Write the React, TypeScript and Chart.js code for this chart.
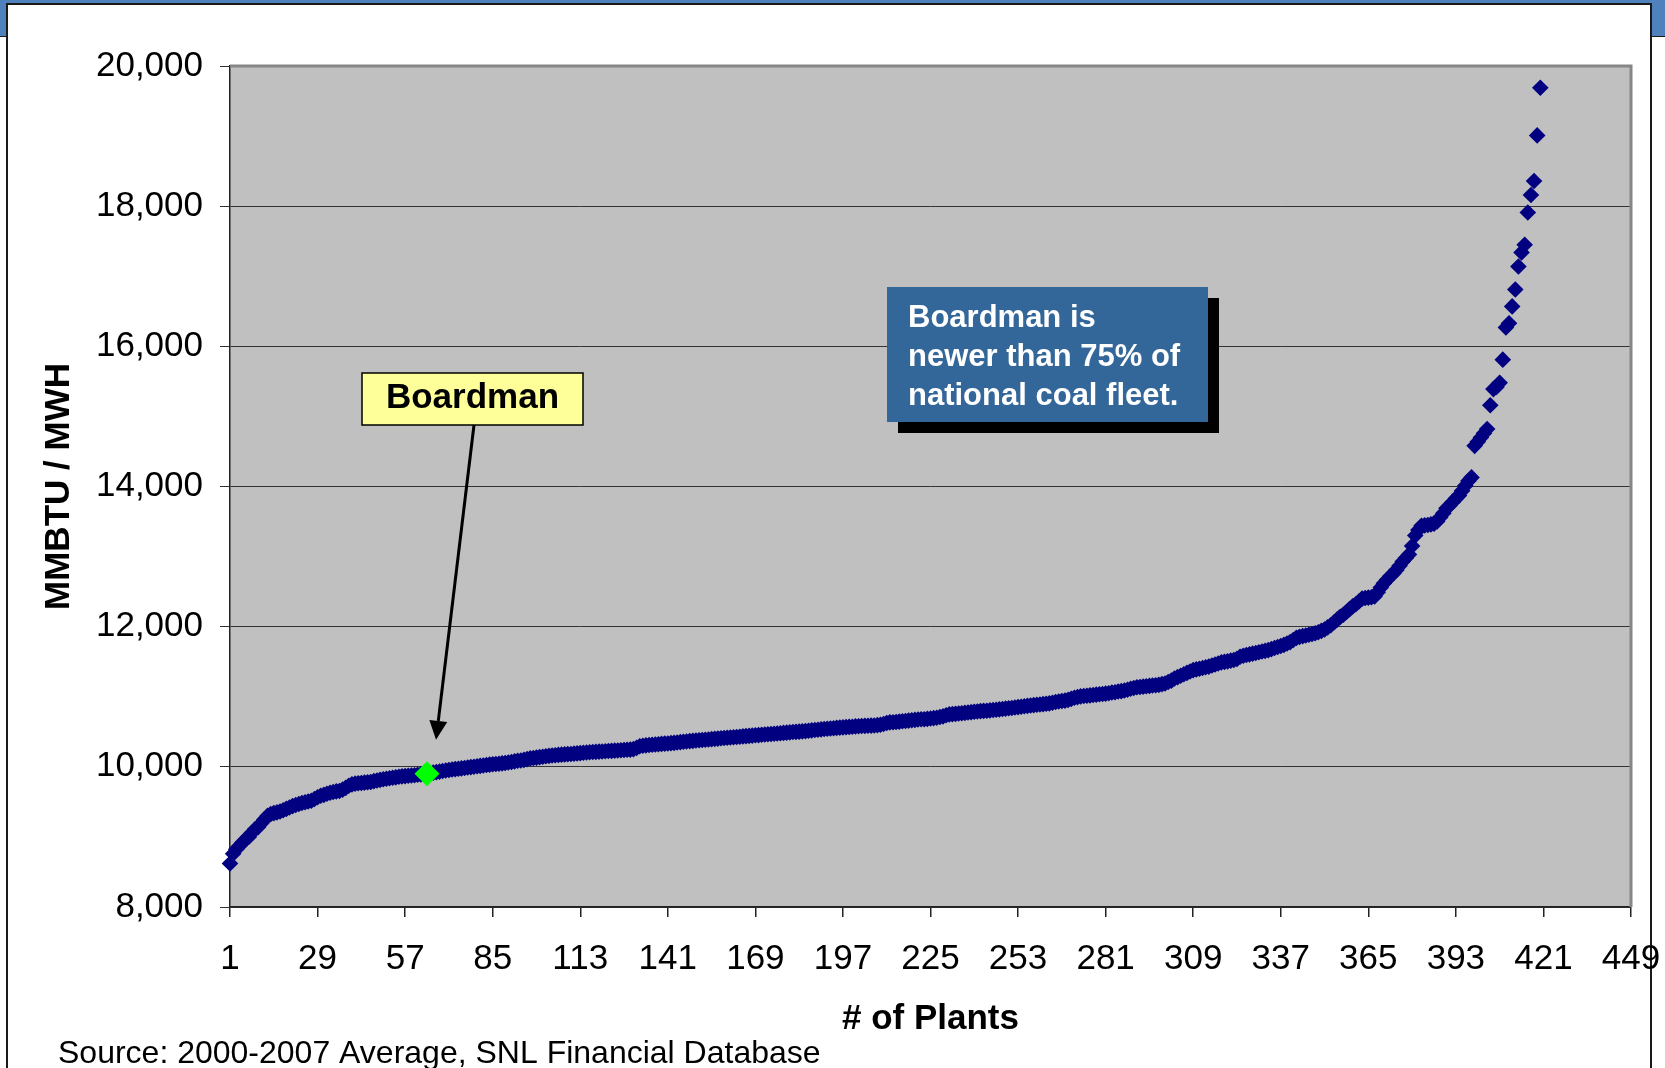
import { useEffect, useRef } from 'react';
import { Chart, registerables } from 'chart.js';

Chart.register(...registerables);

// Heat rate (MMBTU / MWH) of each coal plant, sorted ascending; plant rank = position + 1
const HEAT_RATES = [
  8620, 8760, 8825, 8870, 8920, 8968, 9000, 9060, 9110, 9140,
  9195, 9250, 9300, 9325, 9340, 9350, 9362, 9380, 9400, 9420,
  9440, 9455, 9470, 9485, 9495, 9505, 9515, 9540, 9565, 9588,
  9600, 9615, 9630, 9640, 9650, 9655, 9675, 9700, 9730, 9750,
  9760, 9765, 9770, 9775, 9780, 9784, 9796, 9806, 9814, 9822,
  9830, 9838, 9845, 9850, 9858, 9864, 9868, 9872, 9876, 9880,
  9886, 9892, 9898, 9904, 9910, 9918, 9925, 9932, 9940, 9948,
  9955, 9962, 9968, 9972, 9978, 9984, 9990, 9996, 10002, 10008,
  10014, 10020, 10026, 10031, 10036, 10040, 10045, 10050, 10055, 10062,
  10070, 10078, 10086, 10090, 10100, 10110, 10121, 10126, 10132, 10138,
  10144, 10150, 10156, 10161, 10166, 10170, 10174, 10178, 10181, 10184,
  10188, 10192, 10196, 10200, 10204, 10208, 10211, 10214, 10217, 10219,
  10222, 10225, 10228, 10231, 10234, 10237, 10240, 10243, 10246, 10252,
  10270, 10294, 10300, 10306, 10311, 10315, 10319, 10323, 10327, 10331,
  10334, 10338, 10342, 10347, 10352, 10357, 10362, 10367, 10371, 10375,
  10379, 10383, 10387, 10391, 10395, 10399, 10403, 10407, 10411, 10415,
  10419, 10422, 10426, 10430, 10434, 10438, 10442, 10446, 10450, 10453,
  10457, 10461, 10464, 10468, 10472, 10476, 10480, 10484, 10488, 10492,
  10496, 10499, 10503, 10506, 10510, 10515, 10520, 10525, 10530, 10535,
  10540, 10544, 10548, 10551, 10556, 10560, 10563, 10566, 10570, 10573,
  10577, 10580, 10582, 10584, 10586, 10588, 10590, 10595, 10600, 10612,
  10625, 10635, 10637, 10640, 10645, 10650, 10655, 10660, 10665, 10670,
  10675, 10678, 10680, 10685, 10690, 10695, 10700, 10710, 10720, 10735,
  10748, 10752, 10755, 10760, 10765, 10770, 10775, 10780, 10785, 10790,
  10795, 10798, 10800, 10805, 10810, 10815, 10820, 10825, 10830, 10836,
  10840, 10846, 10852, 10858, 10865, 10870, 10875, 10880, 10885, 10890,
  10895, 10900, 10905, 10915, 10925, 10932, 10940, 10945, 10955, 10970,
  10985, 10995, 11005, 11010, 11015, 11020, 11025, 11030, 11035, 11040,
  11045, 11050, 11060, 11065, 11075, 11080, 11090, 11100, 11115, 11125,
  11135, 11140, 11145, 11150, 11155, 11160, 11165, 11170, 11180, 11190,
  11210, 11230, 11260, 11280, 11300, 11320, 11340, 11360, 11380, 11390,
  11400, 11410, 11420, 11430, 11445, 11460, 11475, 11490, 11498, 11505,
  11515, 11525, 11540, 11570, 11585, 11595, 11605, 11615, 11625, 11635,
  11645, 11655, 11665, 11680, 11695, 11710, 11725, 11740, 11760, 11780,
  11810, 11840, 11855, 11865, 11875, 11885, 11895, 11905, 11920, 11940,
  11960, 11990, 12020, 12060, 12100, 12140, 12170, 12210, 12250, 12290,
  12320, 12360, 12400, 12410, 12415, 12420, 12430, 12490, 12560, 12620,
  12670, 12720, 12760, 12810, 12870, 12930, 12980, 13030, 13150, 13300,
  13380, 13440, 13445, 13450, 13460, 13470, 13500, 13560, 13620, 13690,
  13730, 13780, 13830, 13870, 13940, 14010, 14080, 14130, 14580, 14640,
  14700, 14760, 14820, 15160, 15390, 15420, 15480, 15810, 16270, 16330,
  16570, 16810, 17140, 17340, 17450, 17910, 18160, 18360, 19010, 19690,
];

const BOARDMAN_RANK = 64;
const BOARDMAN_HEAT_RATE = 9900;

const X_TICKS = [1, 29, 57, 85, 113, 141, 169, 197, 225, 253, 281, 309, 337, 365, 393, 421, 449];
const Y_MIN = 8000;
const Y_MAX = 20000;
const Y_STEP = 2000;

const X_TITLE = '# of Plants';
const Y_TITLE = 'MMBTU / MWH';
const CALLOUT_LABEL = 'Boardman';
const NOTE_LINES = ['Boardman is', 'newer than 75% of', 'national coal fleet.'];
const SOURCE_TEXT = 'Source: 2000-2007 Average, SNL Financial Database';

const FONT = '"Liberation Sans", Arial, sans-serif';

const decorPlugin = {
  id: 'decor',
  beforeDraw(chart: any) {
    const { ctx, chartArea } = chart;
    const { left, top, right, bottom } = chartArea;
    ctx.save();
    ctx.fillStyle = '#C0C0C0';
    ctx.fillRect(left, top, right - left, bottom - top);
    ctx.restore();
  },
  beforeDatasetsDraw(chart: any) {
    const { ctx, chartArea } = chart;
    const { left, top, right, bottom } = chartArea;
    ctx.save();
    ctx.strokeStyle = '#868686';
    ctx.lineWidth = 3;
    ctx.beginPath();
    ctx.moveTo(left, top);
    ctx.lineTo(right, top);
    ctx.lineTo(right, bottom);
    ctx.stroke();
    ctx.restore();
  },
  afterDraw(chart: any) {
    const { ctx } = chart;
    const xs = chart.scales.x;
    const ys = chart.scales.y;
    ctx.save();

    // Yellow callout
    ctx.fillStyle = '#FFFF99';
    ctx.fillRect(362, 373, 221, 52);
    ctx.strokeStyle = '#000';
    ctx.lineWidth = 1.5;
    ctx.strokeRect(362, 373, 221, 52);
    ctx.fillStyle = '#000';
    ctx.font = `bold 35px ${FONT}`;
    ctx.textAlign = 'center';
    ctx.textBaseline = 'alphabetic';
    ctx.fillText(CALLOUT_LABEL, 472.5, 407.5);

    // Arrow to Boardman point
    const bx = xs.getPixelForValue(BOARDMAN_RANK);
    const by = ys.getPixelForValue(BOARDMAN_HEAT_RATE);
    const tipX = bx + 9;
    const tipY = by - 34;
    const sx = 474;
    const sy = 425;
    const ang = Math.atan2(tipY - sy, tipX - sx);
    const hl = 19;
    const hw = 9;
    const baseX = tipX - hl * Math.cos(ang);
    const baseY = tipY - hl * Math.sin(ang);
    ctx.strokeStyle = '#000';
    ctx.lineWidth = 3;
    ctx.beginPath();
    ctx.moveTo(sx, sy);
    ctx.lineTo(baseX, baseY);
    ctx.stroke();
    ctx.beginPath();
    ctx.moveTo(tipX, tipY);
    ctx.lineTo(baseX + hw * Math.sin(ang), baseY - hw * Math.cos(ang));
    ctx.lineTo(baseX - hw * Math.sin(ang), baseY + hw * Math.cos(ang));
    ctx.closePath();
    ctx.fill();

    // Blue note with shadow
    ctx.fillStyle = '#000';
    ctx.fillRect(898, 298, 321, 135);
    ctx.fillStyle = '#336699';
    ctx.fillRect(887, 287, 321, 135);
    ctx.fillStyle = '#FFFFFF';
    ctx.font = `bold 31px ${FONT}`;
    ctx.textAlign = 'left';
    const baselines = [327, 366, 405];
    NOTE_LINES.forEach((line, i) => ctx.fillText(line, 908, baselines[i]));

    // Source line
    ctx.fillStyle = '#000';
    ctx.font = `32px ${FONT}`;
    ctx.fillText(SOURCE_TEXT, 58, 1063);

    ctx.restore();
  },
};

export default function App() {
  const canvasRef = useRef<HTMLCanvasElement | null>(null);

  useEffect(() => {
    if (!canvasRef.current) return;
    const plantPoints = HEAT_RATES.map((v, i) => ({ x: i + 1, y: v }));
    const chart = new Chart(canvasRef.current, {
      type: 'scatter',
      data: {
        datasets: [
          {
            label: 'Boardman',
            data: [{ x: BOARDMAN_RANK, y: BOARDMAN_HEAT_RATE }],
            pointStyle: 'rectRot',
            pointRadius: 12.5,
            backgroundColor: '#00FF00',
            borderWidth: 0,
            order: 0,
            clip: false as any,
          },
          {
            label: 'Coal plants',
            data: plantPoints,
            pointStyle: 'rectRot',
            pointRadius: 8.3,
            backgroundColor: '#000080',
            borderWidth: 0,
            order: 1,
            clip: false as any,
          },
        ],
      },
      options: {
        animation: false,
        responsive: true,
        maintainAspectRatio: false,
        events: [],
        layout: { padding: { top: 66, right: 34, left: 0, bottom: 0 }, autoPadding: false } as any,
        plugins: {
          legend: { display: false },
          tooltip: { enabled: false },
          title: { display: false },
        },
        scales: {
          x: {
            type: 'linear',
            min: 1,
            max: 449,
            afterBuildTicks: (scale: any) => {
              scale.ticks = X_TICKS.map((v) => ({ value: v }));
            },
            afterFit: (scale: any) => {
              scale.height = 161;
              scale.paddingLeft = 0;
              scale.paddingRight = 0;
            },
            ticks: {
              autoSkip: false,
              maxRotation: 0,
              color: '#000',
              padding: 21,
              font: { family: FONT, size: 35 },
              callback: (v: any) => String(v),
            },
            grid: {
              drawOnChartArea: false,
              drawTicks: true,
              tickLength: 10,
              color: '#222',
              lineWidth: 1.5,
            },
            border: { display: true, color: '#222', width: 1.5 },
            title: {
              display: true,
              text: X_TITLE,
              color: '#000',
              font: { family: FONT, size: 35, weight: 'bold' },
              padding: { top: 0, bottom: 28 },
            },
          },
          y: {
            type: 'linear',
            min: Y_MIN,
            max: Y_MAX,
            afterFit: (scale: any) => {
              scale.width = 230;
              scale.paddingTop = 0;
              scale.paddingBottom = 0;
            },
            ticks: {
              stepSize: Y_STEP,
              color: '#000',
              padding: 17,
              font: { family: FONT, size: 35 },
              callback: (v: any) => Number(v).toLocaleString('en-US'),
            },
            grid: {
              color: '#333',
              lineWidth: 1,
              tickLength: 10,
              drawTicks: true,
            },
            border: { display: true, color: '#222', width: 1.5 },
            title: {
              display: true,
              text: Y_TITLE,
              color: '#000',
              font: { family: FONT, size: 35, weight: 'bold' },
              padding: { top: 38.5, bottom: 0 },
            },
          },
        },
      } as any,
      plugins: [decorPlugin],
    });
    return () => chart.destroy();
  }, []);

  return (
    <div
      style={{
        position: 'absolute',
        left: 0,
        top: 0,
        width: 1665,
        height: 1068,
        overflow: 'hidden',
        background: '#fff',
      }}
    >
      <div
        style={{
          position: 'absolute',
          left: 0,
          top: 0,
          width: 1665,
          height: 37,
          background: '#4F81BD',
          borderBottom: '1.5px solid #1a1a1a',
          boxSizing: 'border-box',
        }}
      />
      <div
        style={{
          position: 'absolute',
          left: 6,
          top: 3,
          width: 1646,
          height: 1100,
          background: '#fff',
          border: '2px solid #1a1a1a',
          boxSizing: 'border-box',
        }}
      />
      <div style={{ position: 'absolute', left: 0, top: 0, width: 1665, height: 1068 }}>
        <canvas ref={canvasRef} />
      </div>
    </div>
  );
}
